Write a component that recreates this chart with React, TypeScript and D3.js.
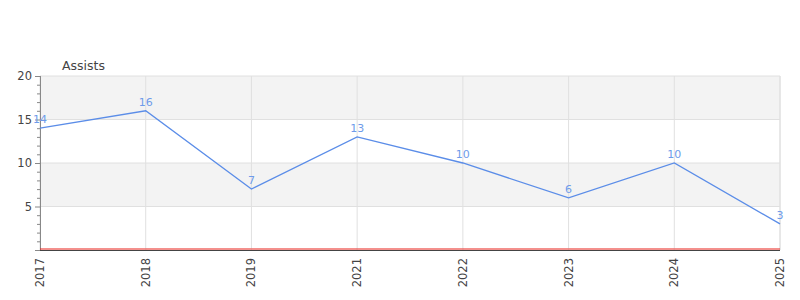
import React from "react";
import * as d3 from "d3";

const categories = ["2017", "2018", "2019", "2021", "2022", "2023", "2024", "2025"];
const assists = [14, 16, 7, 13, 10, 6, 10, 3];
const baseline = [0, 0, 0, 0, 0, 0, 0, 0];
const yTicks = [5, 10, 15, 20];
const yMinor = d3.range(0, 21);
const seriesName = "Assists";

const W = 800, H = 300;
const L = 40, R = 780, T = 76, B = 250;

export default function App() {
  const x = d3.scalePoint<string>().domain(categories).range([L, R]);
  const y = d3.scaleLinear().domain([0, 20]).range([B, T]);
  const line = d3.line<number>().x((_, i) => x(categories[i])!).y((d) => y(d));
  const bands = [[15, 20], [5, 10]];
  const font = "DejaVu Sans, sans-serif";
  return (
    <svg width={W} height={H} style={{ position: "absolute", left: 0, top: 0 }} fontFamily={font}>
      <rect x={0} y={0} width={W} height={H} fill="#fff" />
      {bands.map(([a, b], i) => (
        <rect key={i} x={L} y={y(b)} width={R - L} height={y(a) - y(b)} fill="#f3f3f3" />
      ))}
      {yTicks.map((t) => (
        <line key={t} x1={L} x2={R} y1={y(t)} y2={y(t)} stroke="#e0e0e0" />
      ))}
      {categories.map((c) => (
        <line key={c} x1={x(c)} x2={x(c)} y1={T} y2={B} stroke="#e0e0e0" />
      ))}
      <line x1={R} x2={R} y1={T} y2={B} stroke="#e0e0e0" />
      {yMinor.map((t) => (
        <line key={t} x1={L - (t % 5 === 0 ? 5 : 3)} x2={L} y1={y(t) + 0.5} y2={y(t) + 0.5} stroke="#888" />
      ))}
      <line x1={L + 0.5} x2={L + 0.5} y1={T} y2={B} stroke="#888" />
      {yTicks.map((t) => (
        <text key={t} x={L - 8} y={y(t)} dy="0.35em" textAnchor="end" fontSize={11.5} fill="#444">{t}</text>
      ))}
      <text x={62} y={70} fontSize={12.5} fill="#444">{seriesName}</text>
      <path d={line(baseline)!} fill="none" stroke="#e8201a" strokeWidth={1} transform="translate(0,-1)" />
      <line x1={L} x2={R} y1={B + 0.5} y2={B + 0.5} stroke="#444" />
      <path d={line(assists)!} fill="none" stroke="#5b8de8" strokeWidth={1.3} />
      {assists.map((v, i) => (
        <text key={i} x={x(categories[i])} y={y(v) - 5} textAnchor="middle" fontSize={11} fill="#6e9bea">{v}</text>
      ))}
      {categories.map((c) => (
        <text key={c} transform={`translate(${x(c)! + 4},${B + 8}) rotate(-90)`} textAnchor="end" fontSize={11.5} fill="#444">{c}</text>
      ))}
    </svg>
  );
}
